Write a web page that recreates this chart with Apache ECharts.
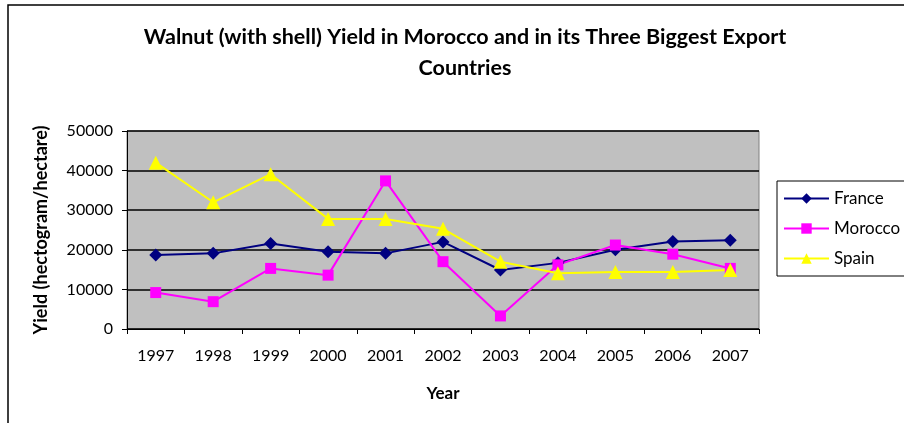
<!DOCTYPE html>
<html><head><meta charset="utf-8">
<script src="https://cdn.jsdelivr.net/npm/echarts@6/dist/echarts.min.js"></script>
<style>html,body{margin:0;padding:0;background:#fff}#c{width:904px;height:423px}</style>
</head><body><div id="c"></div>
<script>
const years = ['1997','1998','1999','2000','2001','2002','2003','2004','2005','2006','2007'];
const france = [18700, 19100, 21600, 19500, 19100, 22000, 14900, 16700, 20000, 22100, 22400];
const morocco = [9200, 6900, 15300, 13600, 37400, 17000, 3300, 16200, 21200, 18900, 15300];
const spain = [42000, 32000, 39100, 27800, 27800, 25300, 17000, 14100, 14400, 14400, 14900];

const F = 'Lato, "Open Sans", sans-serif';
const chart = echarts.init(document.getElementById('c'));
chart.setOption({
  animation: false,
  graphic: [{type:'rect', shape:{x:8,y:5,width:1000,height:1000}, style:{fill:'none', stroke:'#000', lineWidth:1.5}, z:-1}],
  title: {
    text: 'Walnut (with shell) Yield in Morocco and in its Three Biggest Export\nCountries',
    left: 460, top: 17, textAlign: 'center',
    textStyle: {fontFamily: F, fontWeight: 'bold', fontSize: 21.5, lineHeight: 31, color: '#000'}
  },
  legend: {
    orient: 'vertical', left: 777, top: 181,
    itemWidth: 45, itemHeight: 13, itemGap: 13,
    padding: [9, 6, 9, 6],
    borderColor: '#000', borderWidth: 1,
    textStyle: {fontFamily: F, fontSize: 17, color: '#000'},
    data: ['France','Morocco','Spain']
  },
  grid: {left: 127, top: 131, width: 632, height: 198, backgroundColor: '#C0C0C0', show: true, borderColor: '#808080', borderWidth: 1},
  xAxis: {
    type: 'category', data: years, boundaryGap: true,
    name: 'Year', nameLocation: 'middle', nameGap: 56,
    nameTextStyle: {fontFamily: F, fontWeight: 'bold', fontSize: 17, color: '#000'},
    axisLine: {lineStyle: {color: '#000', width: 1}},
    axisTick: {show: true, length: 5, lineStyle: {color: '#000'}},
    axisLabel: {fontFamily: F, fontSize: 16, color: '#000', margin: 19}
  },
  yAxis: {
    type: 'value', min: 0, max: 50000, interval: 10000,
    name: 'Yield (hectogram/hectare)', nameLocation: 'middle', nameGap: 77, nameRotate: 90,
    nameTextStyle: {fontFamily: F, fontWeight: 'bold', fontSize: 18, color: '#000'},
    axisLine: {show: true, lineStyle: {color: '#000', width: 1}},
    axisTick: {show: true, length: 5, lineStyle: {color: '#000'}},
    axisLabel: {fontFamily: F, fontSize: 16, color: '#000', margin: 14, formatter: v => String(v)},
    splitLine: {show: true, lineStyle: {color: '#000', width: 1.5}}
  },
  series: [
    {name: 'France', type: 'line', data: france, symbol: 'diamond', symbolSize: 13,
     itemStyle: {color: '#000080'}, lineStyle: {color: '#000080', width: 2}},
    {name: 'Morocco', type: 'line', data: morocco, symbol: 'rect', symbolSize: 11,
     itemStyle: {color: '#FF00FF'}, lineStyle: {color: '#FF00FF', width: 2}},
    {name: 'Spain', type: 'line', data: spain, symbol: 'triangle', symbolSize: 14,
     itemStyle: {color: '#FFFF00'}, lineStyle: {color: '#FFFF00', width: 2}}
  ]
});
</script></body></html>
